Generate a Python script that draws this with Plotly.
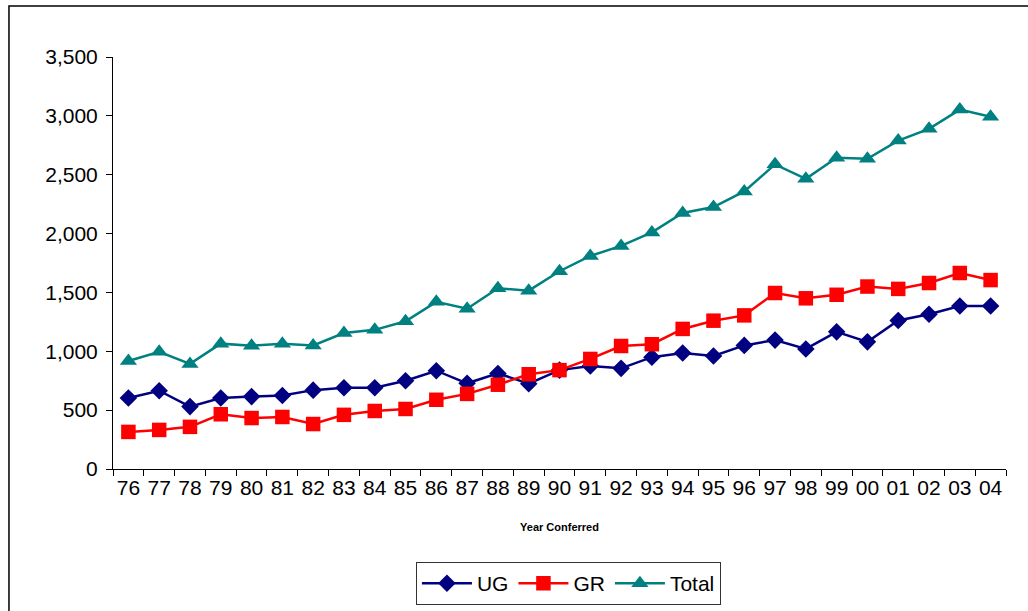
import plotly.graph_objects as go

years = ["76", "77", "78", "79", "80", "81", "82", "83", "84", "85", "86", "87", "88", "89",
         "90", "91", "92", "93", "94", "95", "96", "97", "98", "99", "00", "01", "02", "03", "04"]
ug = [603, 665, 530, 603, 615, 625, 670, 690, 690, 750, 835, 728, 812, 725,
      840, 875, 855, 950, 985, 960, 1050, 1095, 1020, 1165, 1080, 1262, 1315, 1385, 1385]
gr = [315, 332, 358, 465, 433, 442, 382, 460, 493, 510, 588, 638, 716, 805,
      840, 935, 1045, 1060, 1190, 1260, 1305, 1495, 1450, 1480, 1550, 1530, 1580, 1665, 1605]
total = [918, 995, 893, 1065, 1048, 1065, 1050, 1155, 1182, 1255, 1420, 1362, 1535, 1515,
         1680, 1810, 1895, 2010, 2175, 2225, 2358, 2588, 2465, 2645, 2635, 2790, 2890, 3053, 2993]

fig = go.Figure()
fig.add_trace(go.Scatter(x=years, y=ug, name="UG", mode="lines+markers",
                         line=dict(color="#000080", width=2.5),
                         marker=dict(symbol="diamond", size=13.5, color="#000080")))
fig.add_trace(go.Scatter(x=years, y=gr, name="GR", mode="lines+markers",
                         line=dict(color="#FF0000", width=2.5),
                         marker=dict(symbol="square", size=14.5, color="#FF0000")))
fig.add_trace(go.Scatter(x=years, y=total, name="Total", mode="lines+markers",
                         line=dict(color="#008080", width=2.5),
                         marker=dict(symbol="triangle-up", size=15, color="#008080")))

font_family = "Liberation Sans, Arial, sans-serif"

fig.update_layout(
    template="none",
    width=1028, height=611,
    margin=dict(l=113, r=22, t=57, b=142, autoexpand=False),
    paper_bgcolor="white", plot_bgcolor="white",
    font=dict(family=font_family, size=21, color="black"),
    showlegend=True,
    legend=dict(orientation="h", x=0.51, xanchor="center", y=-0.226, yanchor="top",
                bordercolor="#333333", borderwidth=1, bgcolor="white",
                font=dict(size=21), itemwidth=50, traceorder="normal"),
    xaxis=dict(type="category", tickson="boundaries", range=[-0.5, 28.5], automargin=False,
               tickangle=0, showline=True, linecolor="black",
               linewidth=1, ticks="outside", ticklen=6, tickcolor="black",
               showgrid=False, zeroline=False,
               tickfont=dict(size=21),
               title=dict(text="<b>Year Conferred</b>", font=dict(size=11), standoff=25)),
    yaxis=dict(range=[0, 3500], dtick=500, tickformat=",", automargin=False,
               showline=True, linecolor="black", ticklabelstandoff=4,
               linewidth=1, ticks="outside", ticklen=6, tickcolor="black",
               showgrid=False, zeroline=False, tickfont=dict(size=21)),
    shapes=[dict(type="rect", xref="paper", yref="paper",
                 x0=-0.1165, x1=1.08, y0=-0.5, y1=1.1238,
                 line=dict(color="black", width=1.5), fillcolor="rgba(0,0,0,0)", layer="below")],
)

fig.write_html("out.html", config={"displayModeBar": False},
               post_script="document.body.style.margin='0';")
